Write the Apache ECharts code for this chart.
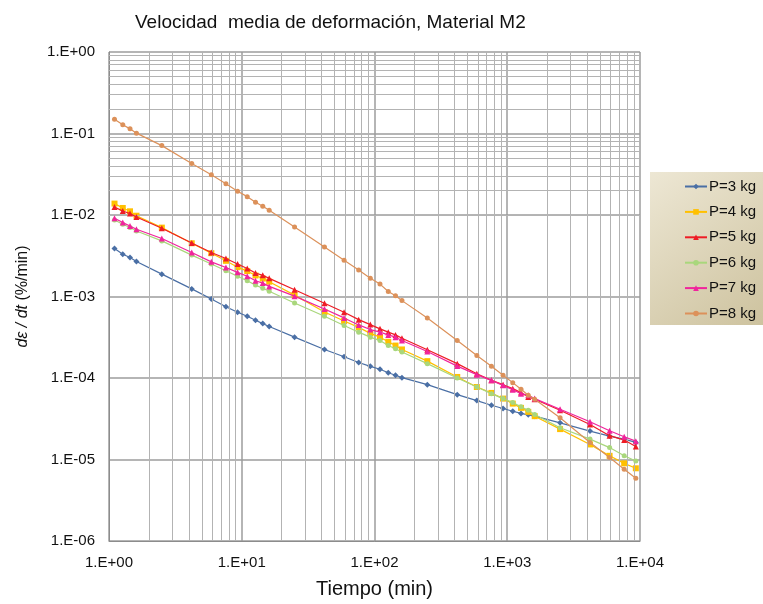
<!DOCTYPE html>
<html>
<head>
<meta charset="utf-8">
<script src="https://cdn.jsdelivr.net/npm/echarts@6/dist/echarts.min.js"></script>
<style>
  html, body { margin: 0; padding: 0; background: #ffffff; }
  #chart { width: 763px; height: 604px; }
</style>
</head>
<body>
<div id="chart"></div>
<script>
// Tiempo de ensayo (min)
const tiempo = [1.1, 1.27, 1.44, 1.61, 2.5, 4.2, 5.9, 7.6, 9.3,
  11, 12.7, 14.4, 16.1, 25, 42, 59, 76, 93,
  110, 127, 144, 161, 250, 420, 590, 760, 930,
  1100, 1270, 1440, 1610, 2500, 4200, 5900, 7600, 9300];

// Velocidad media de deformación (%/min) por carga
const p3kg = [3.88e-3, 3.30e-3, 3.01e-3, 2.69e-3, 1.88e-3, 1.24e-3, 9.3e-4, 7.5e-4, 6.41e-4,
  5.73e-4, 5.12e-4, 4.65e-4, 4.28e-4, 3.17e-4, 2.24e-4, 1.82e-4, 1.55e-4, 1.39e-4,
  1.28e-4, 1.16e-4, 1.08e-4, 1.01e-4, 8.28e-5, 6.25e-5, 5.28e-5, 4.63e-5, 4.22e-5,
  3.91e-5, 3.68e-5, 3.53e-5, 3.40e-5, 2.82e-5, 2.23e-5, 1.94e-5, 1.78e-5, 1.62e-5];
const p4kg = [1.38e-2, 1.22e-2, 1.11e-2, 9.8e-3, 7.0e-3, 4.5e-3, 3.4e-3, 2.74e-3, 2.29e-3,
  2.05e-3, 1.81e-3, 1.66e-3, 1.52e-3, 1.04e-3, 6.46e-4, 5.01e-4, 4.18e-4, 3.53e-4,
  3.17e-4, 2.78e-4, 2.50e-4, 2.24e-4, 1.61e-4, 1.03e-4, 7.76e-5, 6.56e-5, 5.59e-5,
  4.85e-5, 4.30e-5, 3.84e-5, 3.40e-5, 2.36e-5, 1.53e-5, 1.11e-5, 8.97e-6, 7.80e-6];
const p5kg = [1.25e-2, 1.12e-2, 1.04e-2, 9.45e-3, 6.87e-3, 4.54e-3, 3.46e-3, 2.93e-3, 2.50e-3,
  2.21e-3, 1.94e-3, 1.82e-3, 1.67e-3, 1.21e-3, 8.26e-4, 6.41e-4, 5.20e-4, 4.52e-4,
  4.01e-4, 3.65e-4, 3.38e-4, 3.08e-4, 2.22e-4, 1.50e-4, 1.13e-4, 9.36e-5, 8.28e-5,
  7.40e-5, 6.62e-5, 5.86e-5, 5.48e-5, 4.02e-5, 2.69e-5, 1.96e-5, 1.73e-5, 1.44e-5];
const p6kg = [8.67e-3, 7.69e-3, 7.01e-3, 6.37e-3, 4.81e-3, 3.22e-3, 2.50e-3, 2.07e-3, 1.77e-3,
  1.56e-3, 1.38e-3, 1.26e-3, 1.16e-3, 8.32e-4, 5.73e-4, 4.40e-4, 3.65e-4, 3.17e-4,
  2.88e-4, 2.51e-4, 2.28e-4, 2.08e-4, 1.50e-4, 1.00e-4, 7.76e-5, 6.43e-5, 5.59e-5,
  4.99e-5, 4.43e-5, 4.02e-5, 3.56e-5, 2.45e-5, 1.78e-5, 1.40e-5, 1.11e-5, 9.6e-6];
const p7kg = [9.1e-3, 8.07e-3, 7.33e-3, 6.68e-3, 5.14e-3, 3.47e-3, 2.66e-3, 2.27e-3, 1.98e-3,
  1.77e-3, 1.56e-3, 1.46e-3, 1.33e-3, 1.01e-3, 7.03e-4, 5.46e-4, 4.48e-4, 3.93e-4,
  3.65e-4, 3.38e-4, 3.17e-4, 2.88e-4, 2.11e-4, 1.40e-4, 1.10e-4, 9.36e-5, 8.13e-5,
  7.2e-5, 6.43e-5, 6.13e-5, 5.59e-5, 4.14e-5, 2.90e-5, 2.25e-5, 1.90e-5, 1.68e-5];
const p8kg = [0.150, 0.128, 0.114, 0.101, 7.1e-2, 4.28e-2, 3.11e-2, 2.42e-2, 1.96e-2,
  1.68e-2, 1.43e-2, 1.28e-2, 1.14e-2, 7.12e-3, 4.06e-3, 2.79e-3, 2.12e-3, 1.68e-3,
  1.42e-3, 1.15e-3, 1.02e-3, 8.9e-4, 5.46e-4, 2.88e-4, 1.89e-4, 1.39e-4, 1.08e-4,
  8.77e-5, 7.26e-5, 6.13e-5, 5.48e-5, 3.25e-5, 1.62e-5, 1.06e-5, 7.6e-6, 5.88e-6];

const seriesNames = ['P=3 kg', 'P=4 kg', 'P=5 kg', 'P=6 kg', 'P=7 kg', 'P=8 kg'];

// Etiquetas de los ejes logarítmicos
const xTickValues = [1, 10, 100, 1000, 10000];
const xTickLabels = ['1.E+00', '1.E+01', '1.E+02', '1.E+03', '1.E+04'];
const yTickValues = [1e-6, 1e-5, 1e-4, 1e-3, 1e-2, 1e-1, 1];
const yTickLabels = ['1.E-06', '1.E-05', '1.E-04', '1.E-03', '1.E-02', '1.E-01', '1.E+00'];

const FONT = '"Liberation Sans", Arial, sans-serif';

function tickLabel(values, labels, v) {
  const e = Math.round(Math.log10(v));
  for (let i = 0; i < values.length; i++) {
    if (Math.round(Math.log10(values[i])) === e) return labels[i];
  }
  return '';
}

// Líneas secundarias de la cuadrícula (2..9 en cada década)
const gridLines = [];
for (let e = 0; e < 4; e++) for (let k = 2; k <= 9; k++) gridLines.push({ xAxis: k * Math.pow(10, e) });
for (let e = -6; e < 0; e++) for (let k = 2; k <= 9; k++) gridLines.push({ yAxis: k * Math.pow(10, e) });

const styles = [
  { color: '#4a6fa5', symbol: 'diamond', size: 6 },
  { color: '#ffc000', symbol: 'rect', size: 6 },
  { color: '#ee1c25', symbol: 'triangle', size: 6 },
  { color: '#a9d77c', symbol: 'circle', size: 5 },
  { color: '#f0249c', symbol: 'triangle', size: 6 },
  { color: '#dc915a', symbol: 'circle', size: 5 }
];
const values = [p3kg, p4kg, p5kg, p6kg, p7kg, p8kg];

const series = [{
  name: 'grid',
  type: 'line',
  data: [],
  silent: true,
  z: 1,
  markLine: {
    silent: true,
    symbol: 'none',
    animation: false,
    label: { show: false },
    emphasis: { disabled: true },
    lineStyle: { color: '#b3b3b3', width: 1, type: 'solid' },
    data: gridLines
  }
}];

values.forEach((vals, i) => {
  const s = styles[i];
  series.push({
    name: seriesNames[i],
    type: 'line',
    z: 3 + i,
    data: tiempo.map((t, j) => [t, vals[j]]),
    symbol: s.symbol,
    symbolSize: s.size,
    showSymbol: true,
    lineStyle: { color: s.color, width: 1.2 },
    itemStyle: { color: s.color },
    emphasis: { disabled: true }
  });
});

const chart = echarts.init(document.getElementById('chart'), null, { renderer: 'canvas' });
chart.setOption({
  animation: false,
  backgroundColor: '#ffffff',
  title: {
    text: 'Velocidad  media de deformación, Material M2',
    left: 130,
    top: 8,
    textStyle: { fontFamily: FONT, fontSize: 19, fontWeight: 'normal', color: '#111111' }
  },
  grid: { left: 109, right: 123, top: 52, bottom: 61, containLabel: false },
  legend: {
    orient: 'vertical',
    left: 650,
    top: 172,
    width: 113,
    data: seriesNames,
    padding: [6, 10, 3, 34],
    itemGap: 8.4,
    itemWidth: 22,
    itemHeight: 7,
    textStyle: { fontFamily: FONT, fontSize: 15, lineHeight: 17, color: '#111111', padding: [0, 0, 0, -3] },
    backgroundColor: new echarts.graphic.LinearGradient(0, 0, 1, 1, [
      { offset: 0, color: '#ede7d4' },
      { offset: 1, color: '#cdc29e' }
    ]),
    selectedMode: false
  },
  xAxis: {
    type: 'log',
    logBase: 10,
    min: 1,
    max: 10000,
    interval: 1,
    name: 'Tiempo (min)',
    nameLocation: 'middle',
    nameGap: 38,
    nameTextStyle: { fontFamily: FONT, fontSize: 20, color: '#111111' },
    axisLine: { show: true, lineStyle: { color: '#8c8c8c', width: 1 } },
    axisTick: { show: false },
    axisLabel: {
      margin: 14,
      fontFamily: FONT, fontSize: 15, color: '#111111',
      formatter: v => tickLabel(xTickValues, xTickLabels, v)
    },
    splitLine: { show: true, lineStyle: { color: '#9c9c9c', width: 1.5 } }
  },
  yAxis: {
    type: 'log',
    logBase: 10,
    min: 1e-6,
    max: 1,
    interval: 1,
    name: '{i|dε / dt} (%/min)',
    nameLocation: 'middle',
    nameGap: 78,
    nameRotate: 90,
    nameTextStyle: {
      fontFamily: FONT, fontSize: 16, color: '#111111',
      rich: { i: { fontFamily: FONT, fontSize: 16, fontStyle: 'italic', color: '#111111' } }
    },
    axisLine: { show: true, lineStyle: { color: '#8c8c8c', width: 1 } },
    axisTick: { show: false },
    axisLabel: {
      margin: 14,
      fontFamily: FONT, fontSize: 15, color: '#111111',
      formatter: v => tickLabel(yTickValues, yTickLabels, v)
    },
    splitLine: { show: true, lineStyle: { color: '#9c9c9c', width: 1.5 } }
  },
  series: series
});
</script>
</body>
</html>
